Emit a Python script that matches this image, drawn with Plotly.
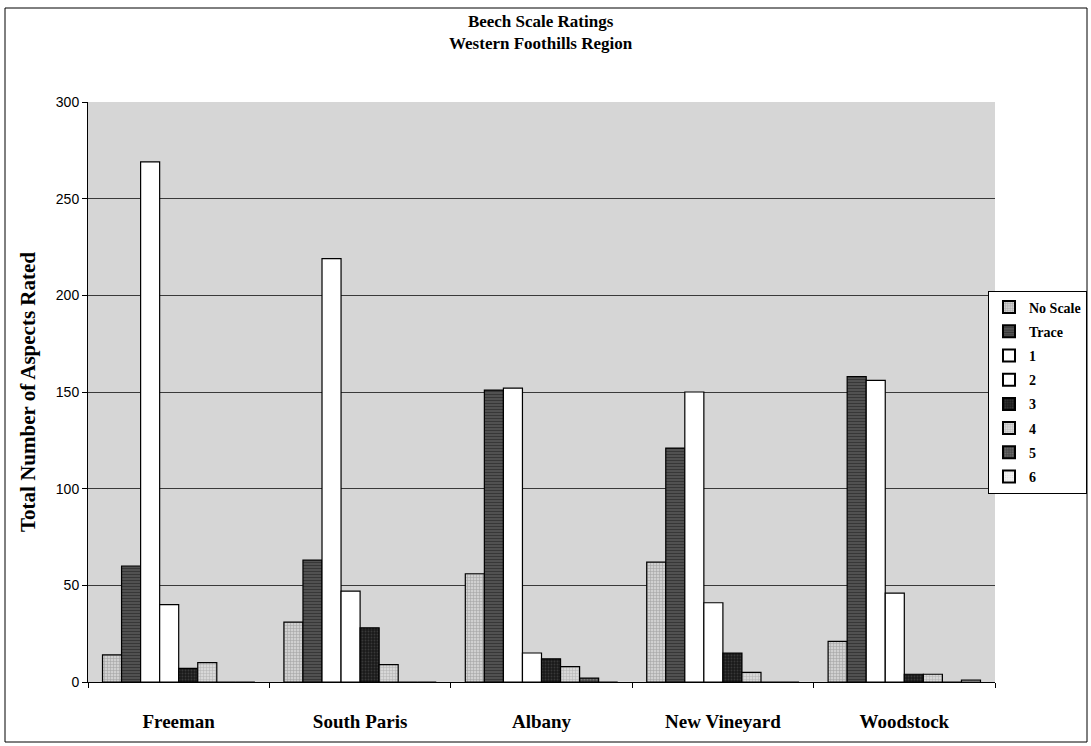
import plotly.graph_objects as go

# Sites surveyed and number of aspects in each beech scale rating class
categories = ["Freeman", "South Paris", "Albany", "New Vineyard", "Woodstock"]
series_names = ["No Scale", "Trace", "1", "2", "3", "4", "5", "6"]
no_scale = [14, 31, 56, 62, 21]
trace = [60, 63, 151, 121, 158]
rating_1 = [269, 219, 152, 150, 156]
rating_2 = [40, 47, 15, 41, 46]
rating_3 = [7, 28, 12, 15, 4]
rating_4 = [10, 9, 8, 5, 4]
rating_5 = [0, 0, 2, 0, 0]
rating_6 = [0, 0, 0, 0, 1]
y_ticks = [0, 50, 100, 150, 200, 250, 300]

series_values = [no_scale, trace, rating_1, rating_2, rating_3, rating_4, rating_5, rating_6]

# Fill styles per rating class (halftone-like patterns)
styles = [
    dict(bg="#d0d0d0", fg="#7a7a7a", shape="+", size=3, solidity=0.35),
    dict(bg="#555555", fg="#1a1a1a", shape="-", size=3, solidity=0.45),
    dict(bg="#ffffff", fg="#ffffff", shape="", size=4, solidity=0.2),
    dict(bg="#ffffff", fg="#ffffff", shape="", size=4, solidity=0.2),
    dict(bg="#1a1a1a", fg="#555555", shape=".", size=3, solidity=0.3),
    dict(bg="#d8d8d8", fg="#8a8a8a", shape="+", size=3, solidity=0.3),
    dict(bg="#4a4a4a", fg="#9a9a9a", shape=".", size=3, solidity=0.3),
    dict(bg="#f2f2f2", fg="#bbbbbb", shape=".", size=3, solidity=0.2),
]

fig = go.Figure()
for name, vals, st in zip(series_names, series_values, styles):
    fig.add_trace(go.Bar(
        name=name,
        legendgroup=name,
        x=categories,
        y=vals,
        marker=dict(
            color=st["bg"],
            line=dict(color="#000000", width=1.2),
            pattern=dict(shape=st["shape"], fgcolor=st["fg"], bgcolor=st["bg"],
                         size=st["size"], solidity=st["solidity"]),
        ),
    ))

L, R, T, B = 88, 96, 102, 64
W, H = 1091, 746
pw, ph = W - L - R, H - T - B

def px_x(p):
    return (p - L) / pw

def px_y(p):
    return (H - B - p) / ph

fig.update_layout(
    width=W, height=H,
    margin=dict(l=L, r=R, t=T, b=B, pad=0, autoexpand=False),
    paper_bgcolor="#ffffff",
    plot_bgcolor="#d6d6d6",
    barmode="group",
    bargap=0.16,
    bargroupgap=0,
    font=dict(family="Liberation Serif", color="#000000"),
    legend=dict(
        x=px_x(988), xanchor="left",
        y=0.5, yanchor="middle",
        bgcolor="#ffffff",
        bordercolor="#000000", borderwidth=1,
        font=dict(family="Liberation Serif", size=14, color="#000000", weight="bold"),
        tracegroupgap=3,
        itemsizing="constant",
        itemwidth=30,
    ),
    xaxis=dict(
        showline=True, linecolor="#000000", linewidth=1,
        ticks="outside", tickson="boundaries", ticklen=5, tickcolor="#000000",
        tickfont=dict(family="Liberation Serif", size=19, color="#000000", weight="bold"),
        ticklabelstandoff=22,
        showgrid=False,
    ),
    yaxis=dict(
        range=[0, 300],
        tickvals=y_ticks,
        showline=True, linecolor="#000000", linewidth=1,
        ticks="outside", ticklen=5, tickcolor="#000000",
        tickfont=dict(family="Liberation Sans", size=14, color="#000000"),
        showgrid=True, gridcolor="#3a3a3a", gridwidth=1,
        zeroline=False,
        title=dict(text="Total Number of Aspects Rated",
                   font=dict(family="Liberation Serif", size=21, color="#000000", weight="bold"),
                   standoff=14),
    ),
)

# Two-line chart title
fig.add_annotation(
    text="<b>Beech Scale Ratings</b><br><b>Western Foothills Region</b>",
    xref="paper", yref="paper", x=px_x(541), y=px_y(32),
    xanchor="center", yanchor="middle", showarrow=False,
    font=dict(family="Liberation Serif", size=17, color="#000000"),
)

# Outer chart frame
fig.add_shape(type="rect", xref="paper", yref="paper",
              x0=px_x(5), x1=px_x(1087), y0=px_y(742), y1=px_y(8),
              line=dict(color="#000000", width=1), fillcolor="rgba(0,0,0,0)",
              layer="below")

fig.write_html("out.html")
